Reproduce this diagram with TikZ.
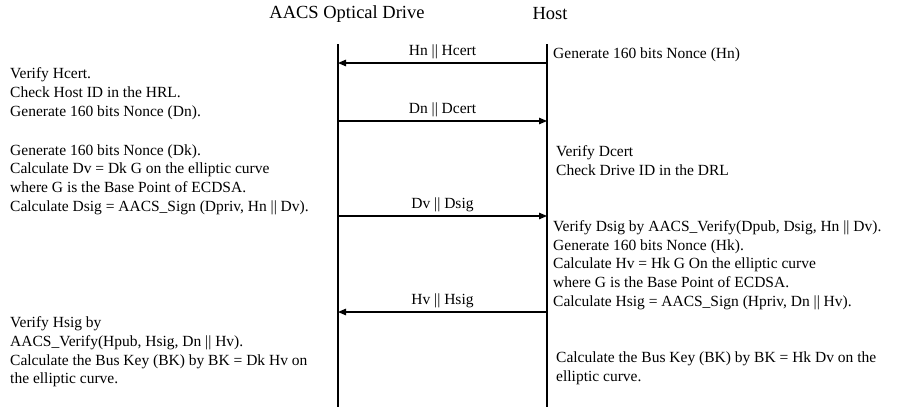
\documentclass[tikz,border=0pt]{standalone}
\usepackage{fontspec}
\setmainfont{Liberation Serif}
\usetikzlibrary{arrows.meta}

\begin{document}
\begin{tikzpicture}[x=1pt,y=-1pt,
    every node/.style={font=\fontsize{15.5}{18.7}\selectfont, inner sep=0pt},
    party/.style={font=\fontsize{18.5}{20}\selectfont},
    steps/.style={anchor=west, align=left},
    lifeline/.style={line width=1.2pt},
    msg/.style={line width=1.2pt, -{Triangle[length=8pt,width=6.5pt]}},
    msglabel/.style={above=4pt, midway}]
    \useasboundingbox (0,0) rectangle (901,410);
    % Parties and their lifelines
    \node[party] (drive) at (347,14) {AACS Optical Drive};
    \node[party] (host) at (550,14) {Host};
    \coordinate (dtop) at (338,44);
    \coordinate (dbot) at (338,407);
    \coordinate (htop) at (547,44);
    \coordinate (hbot) at (547,407);
    \draw[lifeline] (dtop) -- (dbot);
    \draw[lifeline] (htop) -- (hbot);
    % Messages between the lifelines
    \coordinate (d1) at (338,63);  \coordinate (h1) at (547,63);
    \coordinate (d2) at (338,121); \coordinate (h2) at (547,121);
    \coordinate (d3) at (338,216); \coordinate (h3) at (547,216);
    \coordinate (d4) at (338,312); \coordinate (h4) at (547,312);
    \draw[msg] (h1) -- node[msglabel] (m1) {Hn || Hcert} (d1);
    \draw[msg] (d2) -- node[msglabel] (m2) {Dn || Dcert} (h2);
    \draw[msg] (d3) -- node[msglabel] (m3) {Dv || Dsig} (h3);
    \draw[msg] (h4) -- node[msglabel] (m4) {Hv || Hsig} (d4);
    % Drive side steps
    \node[steps] (dstep1) at (10,93.5) {Verify Hcert.\\Check Host ID in the HRL.\\Generate 160 bits Nonce (Dn).};
    \node[steps] (dstep2) at (10,179.5) {Generate 160 bits Nonce (Dk).\\Calculate Dv = Dk G on the elliptic curve\\where G is the Base Point of ECDSA.\\Calculate Dsig = AACS\_Sign (Dpriv, Hn || Dv).};
    \node[steps] (dstep3) at (10,352) {Verify Hsig by\\AACS\_Verify(Hpub, Hsig, Dn || Hv).\\Calculate the Bus Key (BK) by BK = Dk Hv on\\the elliptic curve.};
    % Host side steps
    \node[steps] (hstep1) at (553,55) {Generate 160 bits Nonce (Hn)};
    \node[steps] (hstep2) at (556,160.5) {Verify Dcert\\Check Drive ID in the DRL};
    \node[steps] (hstep3) at (553,265) {Verify Dsig by AACS\_Verify(Dpub, Dsig, Hn || Dv).\\Generate 160 bits Nonce (Hk).\\Calculate Hv = Hk G On the elliptic curve\\where G is the Base Point of ECDSA.\\Calculate Hsig = AACS\_Sign (Hpriv, Dn || Hv).};
    \node[steps] (hstep4) at (556,368.5) {Calculate the Bus Key (BK) by BK = Hk Dv on the\\elliptic curve.};
\end{tikzpicture}
\end{document}
